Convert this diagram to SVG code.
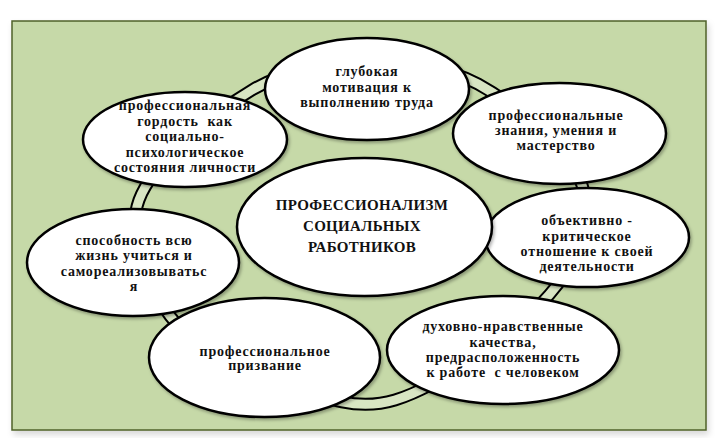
<svg xmlns="http://www.w3.org/2000/svg" width="718" height="438" viewBox="0 0 718 438">
<defs>
<filter id="sh" x="-10%" y="-10%" width="125%" height="130%">
<feDropShadow dx="1.5" dy="2" stdDeviation="1.5" flood-color="#000" flood-opacity="0.3"/>
</filter>
<filter id="bsh" x="-5%" y="-5%" width="110%" height="112%">
<feDropShadow dx="2" dy="4" stdDeviation="3" flood-color="#000" flood-opacity="0.15"/>
</filter>
<style>
.node ellipse{fill:#fff;stroke:#000;stroke-width:2.5;filter:url(#sh)}
.node text{font-family:"Liberation Serif","Times New Roman",serif;font-weight:bold;font-size:14px;letter-spacing:0.8px;fill:#111;text-anchor:middle;white-space:pre}
#center text{font-size:15px;letter-spacing:0.3px}
</style>
</defs>
<rect x="12" y="21" width="694" height="409" fill="#c6d9a8" stroke="#4f6228" stroke-width="1.5" filter="url(#bsh)"/>
<g id="connectors">
<path id="ring" d="M365 66 C402.7 65 441.8 64.2 478 84 C514.2 103.8 570.2 149.8 582 185 C593.8 220.2 580.2 259.2 549 295 C517.8 330.8 440.7 386.2 395 400 C349.3 413.8 312.5 392 275 378 C237.5 364 192.7 345.7 170 316 C147.3 286.3 125.3 237.7 139 200 C152.7 162.3 214.3 112.3 252 90 C289.7 67.7 327.3 67 365 66 Z" fill="none" stroke="#000" stroke-width="13"/>
<path d="M365 66 C402.7 65 441.8 64.2 478 84 C514.2 103.8 570.2 149.8 582 185 C593.8 220.2 580.2 259.2 549 295 C517.8 330.8 440.7 386.2 395 400 C349.3 413.8 312.5 392 275 378 C237.5 364 192.7 345.7 170 316 C147.3 286.3 125.3 237.7 139 200 C152.7 162.3 214.3 112.3 252 90 C289.7 67.7 327.3 67 365 66 Z" fill="none" stroke="#d8e5c3" stroke-width="9"/>
</g>
<g id="n-top" class="node">
<ellipse cx="367" cy="89" rx="102" ry="51"/>
<text x="367" y="76">глубокая</text>
<text x="367" y="91.5">мотивация к</text>
<text x="367" y="107">выполнению труда</text>
</g>
<g id="n-topleft" class="node">
<ellipse cx="185" cy="139.5" rx="102" ry="47.5"/>
<text x="185" y="110">профессиональная</text>
<text x="185" y="125.7">гордость  как</text>
<text x="185" y="141">социально-</text>
<text x="185" y="156.7">психологическое</text>
<text x="185" y="172.3">состояния личности</text>
</g>
<g id="n-topright" class="node">
<ellipse cx="559.5" cy="133.5" rx="106.5" ry="50.5"/>
<text x="556" y="120">профессиональные</text>
<text x="556" y="135">знания, умения и</text>
<text x="556" y="150">мастерство</text>
</g>
<g id="n-left" class="node">
<ellipse cx="133" cy="262.5" rx="106" ry="53.5"/>
<text x="134" y="245">способность всю</text>
<text x="134" y="260">жизнь учиться и</text>
<text x="134" y="275.7">самореализовыватьс</text>
<text x="134" y="291">я</text>
</g>
<g id="n-right" class="node">
<ellipse cx="587" cy="237.5" rx="102" ry="49.5"/>
<text x="587" y="225">объективно -</text>
<text x="587" y="241">критическое</text>
<text x="587" y="256">отношение к своей</text>
<text x="587" y="271">деятельности</text>
</g>
<g id="n-bottom" class="node">
<ellipse cx="264.5" cy="357.5" rx="115.5" ry="59.5"/>
<text x="265" y="355.7">профессиональное</text>
<text x="265" y="370">призвание</text>
</g>
<g id="n-bottomright" class="node">
<ellipse cx="503" cy="350" rx="116" ry="54"/>
<text x="503" y="331">духовно-нравственные</text>
<text x="503" y="347">качества,</text>
<text x="503" y="362">предрасположенность</text>
<text x="503" y="377.3">к работе  с человеком</text>
</g>
<g id="center" class="node">
<ellipse cx="364.5" cy="227" rx="127.5" ry="69"/>
<text x="362" y="210">ПРОФЕССИОНАЛИЗМ</text>
<text x="362" y="231">СОЦИАЛЬНЫХ</text>
<text x="362" y="252.3">РАБОТНИКОВ</text>
</g>
</svg>
